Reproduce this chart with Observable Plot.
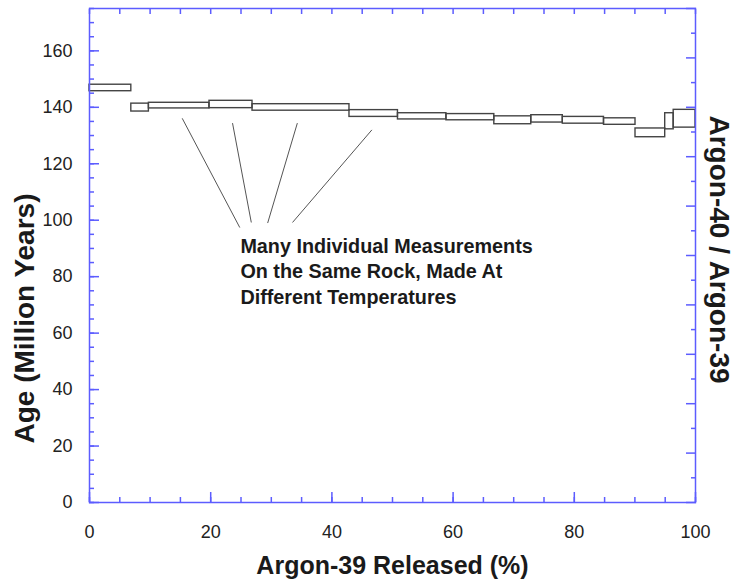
<!DOCTYPE html>
<html><head><meta charset="utf-8">
<script src="https://cdn.jsdelivr.net/npm/d3@7"></script>
<script src="https://cdn.jsdelivr.net/npm/@observablehq/plot@0.6"></script>
<style>body{margin:0;background:#fff;}</style>
</head><body><div id="chart"></div>
<script>
// Step-heating age spectrum: each heating step spans a range of released Ar-39 (%)
const stepStart = [0, 6.9, 9.8, 19.8, 26.9, 42.9, 50.9, 58.9, 66.8, 72.9, 78.1, 84.9, 90.1, 95.0, 96.4];
const stepEnd   = [6.9, 9.8, 19.8, 26.9, 42.9, 50.9, 58.9, 66.8, 72.9, 78.1, 84.9, 90.1, 95.0, 96.4, 100];
const ageHigh   = [148.0, 141.3, 141.6, 142.3, 141.1, 139.0, 137.9, 137.6, 136.8, 137.2, 136.6, 136.1, 132.5, 137.9, 139.1];
const ageLow    = [145.7, 138.5, 139.6, 139.7, 138.8, 136.6, 135.7, 135.4, 134.0, 134.6, 134.2, 133.8, 129.4, 132.2, 132.8];

const xMajorTicks = [0, 20, 40, 60, 80, 100];
const xMinorTicks = [0, 5, 10, 15, 20, 25, 30, 35, 40, 45, 50, 55, 60, 65, 70, 75, 80, 85, 90, 95, 100];
const yMajorTicks = [0, 20, 40, 60, 80, 100, 120, 140, 160];
const yMinorTicks = [0, 5, 10, 15, 20, 25, 30, 35, 40, 45, 50, 55, 60, 65, 70, 75, 80, 85, 90, 95, 100, 105, 110, 115, 120, 125, 130, 135, 140, 145, 150, 155, 160, 165, 170, 175];
// right axis (Argon-40 / Argon-39), unlabeled
const ratioMajorTicks = [0, 1, 2, 3, 4, 5, 6, 7, 8, 9, 10];
const ratioMinorTicks = [0.5, 1.5, 2.5, 3.5, 4.5, 5.5, 6.5, 7.5, 8.5, 9.5];
const agePerRatio = 17.5;

// callout lines and note
const calloutFromX = [15.3, 23.6, 34.3, 46.6];
const calloutFromY = [136.1, 134.4, 134.4, 132.0];
const calloutToX   = [24.8, 26.7, 29.4, 33.5];
const calloutToY   = [97.4, 99.2, 99.0, 99.2];
const noteLines = ["Many Individual Measurements", "On the Same Rock, Made At", "Different Temperatures"];
const noteX = [24.9];
const noteY = [94.6];

const xTitle = "Argon-39 Released (%)";
const yTitle = "Age (Million Years)";
const y2Title = "Argon-40 / Argon-39";

const steps = stepStart.map((s, i) => ({x1: s, x2: stepEnd[i], hi: ageHigh[i], lo: ageLow[i]}));
const callouts = calloutFromX.map((x, i) => ({x1: x, y1: calloutFromY[i], x2: calloutToX[i], y2: calloutToY[i]}));

const blue = "#5c5cff";
const font = "Liberation Sans, Arial, sans-serif";

const chart = Plot.plot({
  width: 743,
  height: 585,
  marginLeft: 89,
  marginRight: 48,
  marginTop: 8,
  marginBottom: 83,
  style: {fontFamily: font, background: "#fff", overflow: "visible"},
  x: {domain: [0, 100]},
  y: {domain: [0, 175]},
  marks: [
    Plot.rect(steps, {x1: "x1", x2: "x2", y1: "lo", y2: "hi", fill: "none", stroke: "#444", strokeWidth: 1.4}),
    Plot.link(callouts, {x1: "x1", y1: "y1", x2: "x2", y2: "y2", stroke: "#555", strokeWidth: 1}),
    Plot.text(noteX, {x: d => d, y: (d, i) => noteY[i], text: () => noteLines.join("\n"), textAnchor: "start", lineAnchor: "top", lineHeight: 1.27, fontSize: 19.8, fontWeight: "bold", fill: "#1a1a1a"}),
    // bottom axis
    Plot.axisX({anchor: "bottom", ticks: xMinorTicks, tickSize: -5, tickFormat: () => "", label: null, stroke: blue, strokeWidth: 1.5}),
    Plot.axisX({anchor: "bottom", ticks: xMajorTicks, tickSize: -10, tickPadding: 33, tickFormat: d => String(d), label: null, stroke: blue, strokeWidth: 1.5, fontSize: 18, fill: "#222"}),
    // top axis
    Plot.axisX({anchor: "top", ticks: xMinorTicks, tickSize: -5, tickFormat: () => "", label: null, stroke: blue, strokeWidth: 1.5}),
    // left axis
    Plot.axisY({anchor: "left", ticks: yMinorTicks, tickSize: -5, tickFormat: () => "", label: null, stroke: blue, strokeWidth: 1.5}),
    Plot.axisY({anchor: "left", ticks: yMajorTicks, tickSize: -10, tickPadding: 27, tickFormat: d => String(d), label: null, stroke: blue, strokeWidth: 1.5, fontSize: 18, fill: "#222"}),
    // right axis
    Plot.axisY({anchor: "right", ticks: ratioMinorTicks.map(r => r * agePerRatio), tickSize: -5, tickFormat: () => "", label: null, stroke: blue, strokeWidth: 1.5}),
    Plot.axisY({anchor: "right", ticks: ratioMajorTicks.map(r => r * agePerRatio), tickSize: -10, tickFormat: () => "", label: null, stroke: blue, strokeWidth: 1.5}),
    Plot.frame({stroke: blue, strokeWidth: 1.5}),
    // titles
    Plot.text([xTitle], {text: d => d, frameAnchor: "bottom", textAnchor: "middle", dy: 63, lineAnchor: "middle", fontSize: 25, fontWeight: "bold", fill: "#1a1a1a"}),
    Plot.text([yTitle], {text: d => d, frameAnchor: "left", textAnchor: "middle", rotate: -90, dx: -64, dy: 63, lineAnchor: "middle", fontSize: 28, fontWeight: "bold", fill: "#1a1a1a"}),
    Plot.text([y2Title], {text: d => d, frameAnchor: "right", textAnchor: "middle", rotate: 90, dx: 23, dy: -6, lineAnchor: "middle", fontSize: 28, fontWeight: "bold", fill: "#1a1a1a"})
  ]
});
document.getElementById("chart").append(chart);
</script>
</body></html>
